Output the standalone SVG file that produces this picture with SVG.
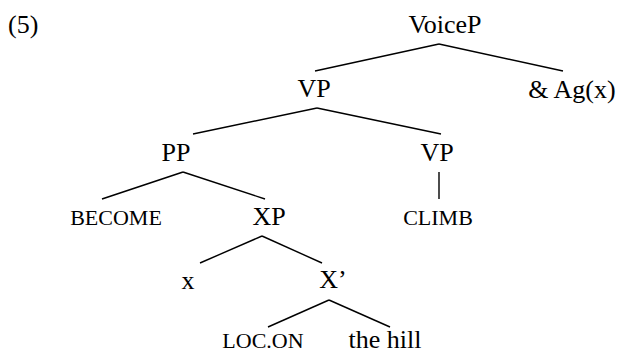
<svg xmlns="http://www.w3.org/2000/svg" width="621" height="353" viewBox="0 0 621 353" font-family="'Liberation Serif', 'DejaVu Serif', serif">
  <style>
    text { font-family: 'Liberation Serif', 'Times New Roman', Times, serif; fill: #000; }
    .lbl { font-size: 26px; text-anchor: middle; }
    .sc { font-size: 22px; text-anchor: middle; }
    .edge { stroke: #000; stroke-width: 1.4; fill: none; stroke-linecap: butt; }
  </style>
  <rect width="621" height="353" fill="#fff"/>
  <text x="8" y="33" font-size="26">(5)</text>

  <g id="connectors">
    <line class="edge" x1="439" y1="44" x2="315" y2="71"/>
    <line class="edge" x1="439" y1="44" x2="563" y2="71"/>
    <line class="edge" x1="317" y1="108" x2="193" y2="134"/>
    <line class="edge" x1="317" y1="108" x2="441" y2="134"/>
    <line class="edge" x1="183" y1="172" x2="102" y2="199"/>
    <line class="edge" x1="183" y1="172" x2="265" y2="199"/>
    <line class="edge" x1="439" y1="172" x2="439" y2="199"/>
    <line class="edge" x1="262" y1="236" x2="200" y2="263"/>
    <line class="edge" x1="262" y1="236" x2="322" y2="263"/>
    <line class="edge" x1="329" y1="300" x2="268" y2="327"/>
    <line class="edge" x1="329" y1="300" x2="390" y2="327"/>
  </g>

  <g id="voiceP"><text class="lbl" x="445" y="33">VoiceP</text></g>
  <g id="vp-top"><text class="lbl" x="314" y="97">VP</text></g>
  <g id="agent"><text class="lbl" x="572" y="98">&amp; Ag(x)</text></g>
  <g id="pp"><text class="lbl" x="176" y="161">PP</text></g>
  <g id="vp-low"><text class="lbl" x="437" y="161">VP</text></g>
  <g id="become"><text class="sc" x="116" y="225">BECOME</text></g>
  <g id="xp"><text class="lbl" x="269" y="225">XP</text></g>
  <g id="climb"><text class="sc" x="438" y="225">CLIMB</text></g>
  <g id="x"><text class="lbl" x="188" y="289">x</text></g>
  <g id="xbar"><text class="lbl" x="333" y="288">X’</text></g>
  <g id="loc-on"><text class="sc" x="263" y="348">LOC.ON</text></g>
  <g id="the-hill"><text class="lbl" x="385" y="348">the hill</text></g>
</svg>
